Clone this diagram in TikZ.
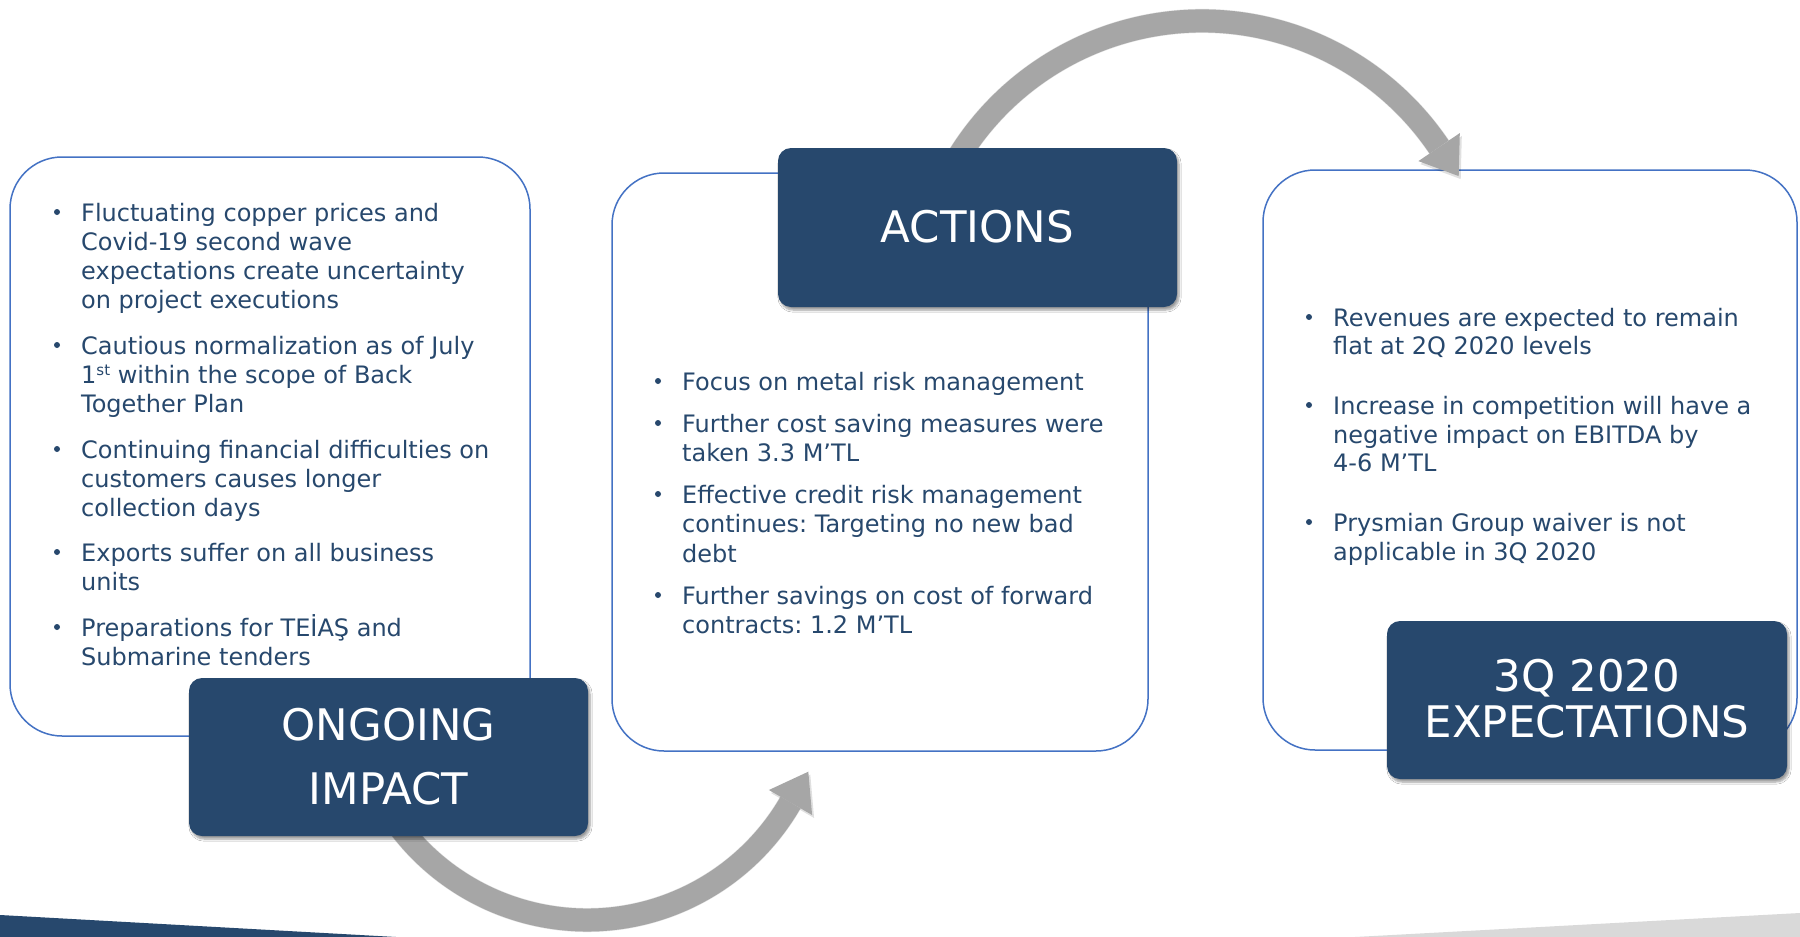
\documentclass[tikz,border=0pt]{standalone}
\usepackage{fontspec}
\setmainfont{DejaVu Sans}
\usetikzlibrary{shadows.blur}
\definecolor{navy}{HTML}{27486D}
\definecolor{frameblue}{HTML}{4472C4}
\definecolor{arrowgray}{HTML}{A6A6A6}
\definecolor{bandgray}{HTML}{D9D9D9}
\frenchspacing
\newcommand\ordsuffix[1]{\raisebox{7.5pt}{\fontsize{15}{15}\selectfont #1}}

\begin{document}
\begin{tikzpicture}[x=1pt,y=-1pt,
  panel/.style={draw=frameblue, line width=1.5pt, fill=white, rounded corners=52pt, inner sep=0pt},
  titlebox/.style={fill=navy, rounded corners=13pt, inner sep=0pt,
    blur shadow={shadow xshift=2pt, shadow yshift=-3pt, shadow blur steps=6, shadow opacity=40}},
  titletext/.style={anchor=base, inner sep=0pt, text=white, font=\fontsize{43.5}{52}\selectfont},
  txt/.style={anchor=base west, inner sep=0pt, text=navy, font=\fontsize{24}{29}\selectfont},
  dot/.style={circle, fill=navy, inner sep=0pt, minimum size=6pt},
  flow/.style={draw=arrowgray, line width=23pt},
  flowshade/.style={draw=black, line width=24pt, opacity=0.12, xshift=2pt, yshift=-3pt},
  head/.style={fill=arrowgray},
  headshade/.style={fill=black, opacity=0.12, xshift=2pt, yshift=-3pt}
]
\useasboundingbox (0,0) rectangle (1800,937);
\fill[white] (0,0) rectangle (1800,937);

% corner bands along the lower edge
\fill[navy] (0,915) -- (396,937) -- (0,937) -- cycle;
\fill[bandgray] (1355,937) -- (1800,913) -- (1800,937) -- cycle;

% content panels
\node[panel, minimum width=520pt, minimum height=579pt] (impactpanel) at (270,446.5) {};
\node[panel, minimum width=536pt, minimum height=578pt] (actionpanel) at (880,462) {};
\node[panel, minimum width=534pt, minimum height=580pt] (outlookpanel) at (1530,460) {};

% curved flow arrows (centres of the arcs)
\coordinate (lowc) at (587,685);
\coordinate (topc) at (1202,307);

\draw[flowshade] ([shift={(150:235)}]lowc) arc[start angle=150, end angle=30, radius=235];
\fill[headshade] (812.1,815) -- (808.3,771.7) -- (768.9,790) -- cycle;
\draw[flow] ([shift={(150:235)}]lowc) arc[start angle=150, end angle=30, radius=235];
\fill[head] (812.1,815) -- (808.3,771.7) -- (768.9,790) -- cycle;

\draw[flowshade] ([shift={(200:286)}]topc) arc[start angle=200, end angle=326, radius=286];
\fill[headshade] (1459.8,133.1) -- (1458.7,176.1) -- (1418.4,161.1) -- cycle;
\draw[flow] ([shift={(200:286)}]topc) arc[start angle=200, end angle=326, radius=286];
\fill[head] (1459.8,133.1) -- (1458.7,176.1) -- (1418.4,161.1) -- cycle;

% title boxes
\node[titlebox, minimum width=399pt, minimum height=158pt] (impactbox) at (388.5,757) {};
\node[titlebox, minimum width=399pt, minimum height=159pt] (actionbox) at (977.5,227.5) {};
\node[titlebox, minimum width=400pt, minimum height=158pt] (outlookbox) at (1587,700) {};

\node[titletext] (impact1) at (388.5,740) {ONGOING};
\node[titletext] (impact2) at (388.5,804) {IMPACT};
\node[titletext] (action1) at (977.5,242) {ACTIONS};
\node[titletext] (outlook1) at (1587,691) {3Q 2020};
\node[titletext] (outlook2) at (1587,737) {EXPECTATIONS};

% ongoing impact items
\node[dot] (ia) at (57,212) {};
\node[txt] (ia1) at (81,221) {Fluctuating copper prices and};
\node[txt] (ia2) at (81,250) {Covid-19 second wave};
\node[txt] (ia3) at (81,279) {expectations create uncertainty};
\node[txt] (ia4) at (81,308) {on project executions};
\node[dot] (ib) at (57,345) {};
\node[txt] (ib1) at (81,354) {Cautious normalization as of July};
\node[txt] (ib2) at (81,383) {1\ordsuffix{st} within the scope of Back};
\node[txt] (ib3) at (81,412) {Together Plan};
\node[dot] (ic) at (57,449) {};
\node[txt] (ic1) at (81,458) {Continuing financial difficulties on};
\node[txt] (ic2) at (81,487) {customers causes longer};
\node[txt] (ic3) at (81,516) {collection days};
\node[dot] (id) at (57,552) {};
\node[txt] (id1) at (81,561) {Exports suffer on all business};
\node[txt] (id2) at (81,590) {units};
\node[dot] (ie) at (57,627) {};
\node[txt] (ie1) at (81,636) {Preparations for TEİAŞ and};
\node[txt] (ie2) at (81,665) {Submarine tenders};

% action items
\node[dot] (aa) at (658,381) {};
\node[txt] (aa1) at (682,390) {Focus on metal risk management};
\node[dot] (ab) at (658,423) {};
\node[txt] (ab1) at (682,432) {Further cost saving measures were};
\node[txt] (ab2) at (682,461) {taken 3.3 M’TL};
\node[dot] (ac) at (658,494) {};
\node[txt] (ac1) at (682,503) {Effective credit risk management};
\node[txt] (ac2) at (682,532) {continues: Targeting no new bad};
\node[txt] (ac3) at (682,562) {debt};
\node[dot] (ad) at (658,595) {};
\node[txt] (ad1) at (682,604) {Further savings on cost of forward};
\node[txt] (ad2) at (682,633) {contracts: 1.2 M’TL};

% expectation items
\node[dot] (oa) at (1309,317) {};
\node[txt] (oa1) at (1333,326) {Revenues are expected to remain};
\node[txt] (oa2) at (1333,354) {flat at 2Q 2020 levels};
\node[dot] (ob) at (1309,405) {};
\node[txt] (ob1) at (1333,414) {Increase in competition will have a};
\node[txt] (ob2) at (1333,443) {negative impact on EBITDA by};
\node[txt] (ob3) at (1333,471) {4-6 M’TL};
\node[dot] (oc) at (1309,522) {};
\node[txt] (oc1) at (1333,531) {Prysmian Group waiver is not};
\node[txt] (oc2) at (1333,560) {applicable in 3Q 2020};
\end{tikzpicture}
\end{document}
